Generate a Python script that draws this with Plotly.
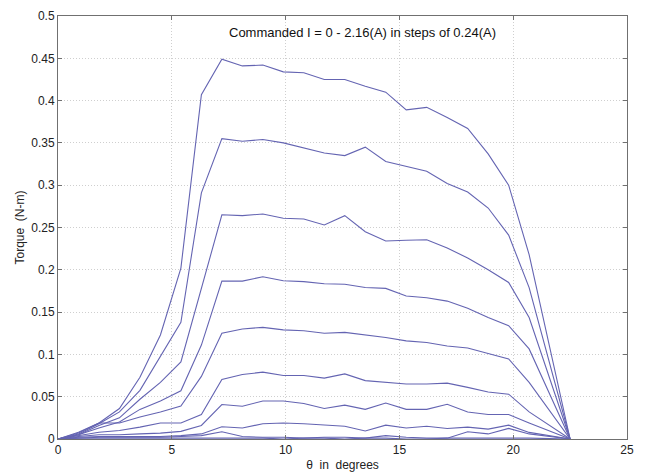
import plotly.graph_objects as go

theta = [0, 0.9, 1.8, 2.7, 3.6, 4.5, 5.4, 6.3, 7.2, 8.1, 9.0, 9.9, 10.8, 11.7,
         12.6, 13.5, 14.4, 15.3, 16.2, 17.1, 18.0, 18.9, 19.8, 20.7, 22.5]

currents = [0.0, 0.24, 0.48, 0.72, 0.96, 1.20, 1.44, 1.68, 1.92, 2.16]

torque_000 = [0, 0.001, 0.001, 0.001, 0.001, 0.001, 0.001, 0.001, 0.001, 0.001, 0.001, 0, 0.001,
              0.001, 0, 0.001, 0.001, 0, 0, 0.001, 0.001, 0.001, 0.001, 0.001, 0]
torque_024 = [0, 0.001, 0.002, 0.002, 0.002, 0.002, 0.003, 0.004, 0.0086, 0.003, 0.002, 0.002, 0.001,
              0.002, 0.002, 0.001, 0.004, 0.002, 0.001, 0.001, 0.0086, 0.006, 0.0125, 0.006, 0]
torque_048 = [0, 0.002, 0.003, 0.003, 0.003, 0.003, 0.004, 0.006, 0.0145, 0.013, 0.018, 0.019, 0.018,
              0.0165, 0.015, 0.0094, 0.0164, 0.013, 0.015, 0.0125, 0.014, 0.0117, 0.0164, 0.0078, 0]
torque_072 = [0, 0.003, 0.005, 0.005, 0.006, 0.007, 0.009, 0.016, 0.0407, 0.0387, 0.045, 0.045, 0.042,
              0.036, 0.040, 0.035, 0.0426, 0.035, 0.035, 0.041, 0.032, 0.029, 0.029, 0.019, 0]
torque_096 = [0, 0.004, 0.008, 0.010, 0.014, 0.019, 0.019, 0.029, 0.0704, 0.0763, 0.079, 0.075, 0.075,
              0.072, 0.077, 0.069, 0.067, 0.065, 0.065, 0.066, 0.061, 0.0555, 0.053, 0.032, 0]
torque_120 = [0, 0.008, 0.019, 0.019, 0.026, 0.032, 0.039, 0.074, 0.125, 0.130, 0.132, 0.129, 0.128,
              0.125, 0.126, 0.123, 0.120, 0.116, 0.114, 0.110, 0.1076, 0.101, 0.0947, 0.067, 0]
torque_144 = [0, 0.005, 0.013, 0.020, 0.035, 0.045, 0.057, 0.111, 0.1866, 0.1866, 0.1917, 0.187, 0.186,
              0.1835, 0.183, 0.179, 0.178, 0.169, 0.167, 0.163, 0.1545, 0.1436, 0.134, 0.1065, 0]
torque_168 = [0, 0.005, 0.016, 0.025, 0.047, 0.067, 0.091, 0.178, 0.265, 0.264, 0.266, 0.261, 0.260,
              0.253, 0.264, 0.245, 0.234, 0.235, 0.2355, 0.2257, 0.214, 0.200, 0.185, 0.1436, 0]
torque_192 = [0, 0.006, 0.018, 0.032, 0.0575, 0.097, 0.138, 0.291, 0.355, 0.352, 0.354, 0.350, 0.344,
              0.338, 0.335, 0.345, 0.328, 0.322, 0.3165, 0.302, 0.292, 0.273, 0.241, 0.179, 0]
torque_216 = [0, 0.007, 0.019, 0.036, 0.073, 0.123, 0.202, 0.407, 0.449, 0.441, 0.442, 0.434, 0.433,
              0.425, 0.425, 0.417, 0.410, 0.389, 0.392, 0.380, 0.367, 0.337, 0.300, 0.218, 0]

series = [torque_000, torque_024, torque_048, torque_072, torque_096,
          torque_120, torque_144, torque_168, torque_192, torque_216]

x_ticks = [0, 5, 10, 15, 20, 25]
y_ticks = [0, 0.05, 0.1, 0.15, 0.2, 0.25, 0.3, 0.35, 0.4, 0.45, 0.5]
y_tick_labels = ["0", "0.05", "0.1", "0.15", "0.2", "0.25", "0.3", "0.35", "0.4", "0.45", "0.5"]

title_text = "Commanded I = 0 - 2.16(A) in steps of 0.24(A)"
x_title = "\u03b8\u00a0\u00a0in\u00a0\u00a0degrees"
y_title = "Torque\u00a0\u00a0(N-m)"

fig = go.Figure()
for cur, vals in zip(currents, series):
    fig.add_trace(go.Scatter(
        x=theta, y=vals, mode="lines", name=f"{cur:.2f} A",
        line=dict(color="rgb(100,100,178)", width=1.1),
        showlegend=False,
    ))

font_family = "Liberation Sans, Arial, sans-serif"

axis_common = dict(
    showline=True, mirror="ticks", linecolor="#707070", linewidth=1,
    ticks="inside", ticklen=4, tickcolor="#707070",
    showgrid=True, gridcolor="#cfcfcf", griddash="1px,2px", gridwidth=1,
    zeroline=False, automargin=False, ticklabeloverflow="allow",
    tickfont=dict(family=font_family, size=12, color="#222222"),
)

fig.update_xaxes(
    range=[0, 25], tickvals=x_ticks, ticktext=[str(v) for v in x_ticks],
    title=dict(text=x_title, font=dict(family=font_family, size=12, color="#222222"),
               standoff=4),
    **axis_common,
)
fig.update_yaxes(
    range=[0, 0.5], tickvals=y_ticks, ticktext=y_tick_labels,
    title=dict(text=y_title, font=dict(family=font_family, size=12, color="#222222"),
               standoff=4),
    **axis_common,
)

fig.add_annotation(
    x=0.5, y=0.96, xref="paper", yref="paper",
    text=title_text, showarrow=False, xanchor="center", yanchor="middle",
    xshift=20,
    font=dict(family=font_family, size=13, color="#111111"),
)

# The page body has an 8px margin, so the figure is sized and padded to land
# the plot area where it sits in the reference.
fig.update_layout(
    width=644, height=468,
    margin=dict(l=50, r=25, t=8, b=37),
    plot_bgcolor="white", paper_bgcolor="white",
)

fig.write_html("out.html")
